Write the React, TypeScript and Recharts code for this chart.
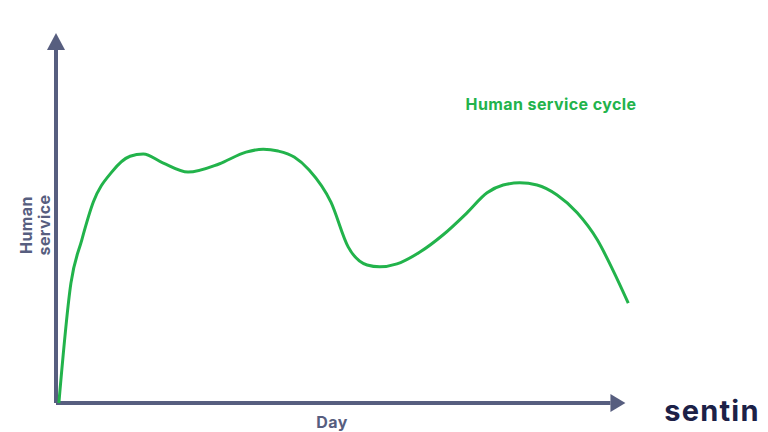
import { LineChart, Line, XAxis, YAxis, ReferenceLine, ReferenceDot } from 'recharts';

// readings (day 0..100, service 0..100)
const days = [0.5, 2.6, 4.5, 6.5, 9.7, 12.9, 15.2, 18.6, 23.0, 28.4, 33.1, 36.1, 38.7, 41.5, 44.1, 47.9, 50.9, 54.2, 56.4, 59.4, 63.4, 67.4, 71.6, 75.1, 77.9, 80.8, 83.8, 87.3, 90.8, 94.3, 97.0, 99.7];
const service = [0, 32.4, 44.1, 54.3, 62.4, 66.7, 67.3, 64.9, 62.4, 64.6, 67.8, 68.6, 68.1, 66.5, 63.0, 54.3, 42.2, 37.3, 36.8, 37.6, 40.8, 45.4, 51.4, 56.8, 58.9, 59.5, 58.9, 56.2, 51.4, 44.1, 36.0, 27.0];

const data = days.map((d, i) => ({ day: d, value: service[i] }));

const AXIS = '#575e7f';
const GREEN = '#22b34b';

const arrowRight = (p: any) => (
    <polygon points={`${p.cx - 15},${p.cy - 9} ${p.cx},${p.cy} ${p.cx - 15},${p.cy + 9}`} fill={AXIS} />
);
const arrowUp = (p: any) => (
    <polygon points={`${p.cx - 9},${p.cy + 17} ${p.cx},${p.cy} ${p.cx + 9},${p.cy + 17}`} fill={AXIS} />
);

export default function App() {
    return (
        <div style={{ position: 'absolute', left: 0, top: 0, background: '#fff' }}>
            <LineChart width={768} height={432} data={data} margin={{ top: 33, right: 138, bottom: 29, left: 56 }}>
                <XAxis dataKey="day" type="number" domain={[0, 100]} hide height={0} />
                <YAxis type="number" domain={[0, 100]} hide width={0} />
                <ReferenceLine segment={[{ x: 0, y: 0 }, { x: 96.6, y: 0 }]} stroke={AXIS} strokeWidth={4} />
                <ReferenceLine segment={[{ x: 0, y: 0 }, { x: 0, y: 96 }]} stroke={AXIS} strokeWidth={4} />
                <ReferenceDot x={99.2} y={0} shape={arrowRight} />
                <ReferenceDot x={0} y={100} shape={arrowUp} />
                <Line type="monotone" dataKey="value" stroke={GREEN} strokeWidth={3} dot={false} isAnimationActive={false} />
                <text x={551} y={110} textAnchor="middle" fontFamily="Inter, sans-serif" fontWeight={700} fontSize={16} letterSpacing={0.4} fill={GREEN}>
                    Human service cycle
                </text>
                <text x={332} y={428} textAnchor="middle" fontFamily="Inter, sans-serif" fontWeight={700} fontSize={16} letterSpacing={0.4} fill={AXIS}>
                    Day
                </text>
                <text transform="translate(32,225) rotate(-90)" textAnchor="middle" fontFamily="Inter, sans-serif" fontWeight={700} fontSize={16} letterSpacing={0.4} fill={AXIS}>
                    <tspan x={0} dy={0}>Human</tspan>
                    <tspan x={0} dy={18}>service</tspan>
                </text>
                <text x={712} y={421} textAnchor="middle" fontFamily="Inter, sans-serif" fontWeight={700} fontSize={29} letterSpacing={1.2} fill="#1c2147">
                    sentin
                </text>
            </LineChart>
        </div>
    );
}
